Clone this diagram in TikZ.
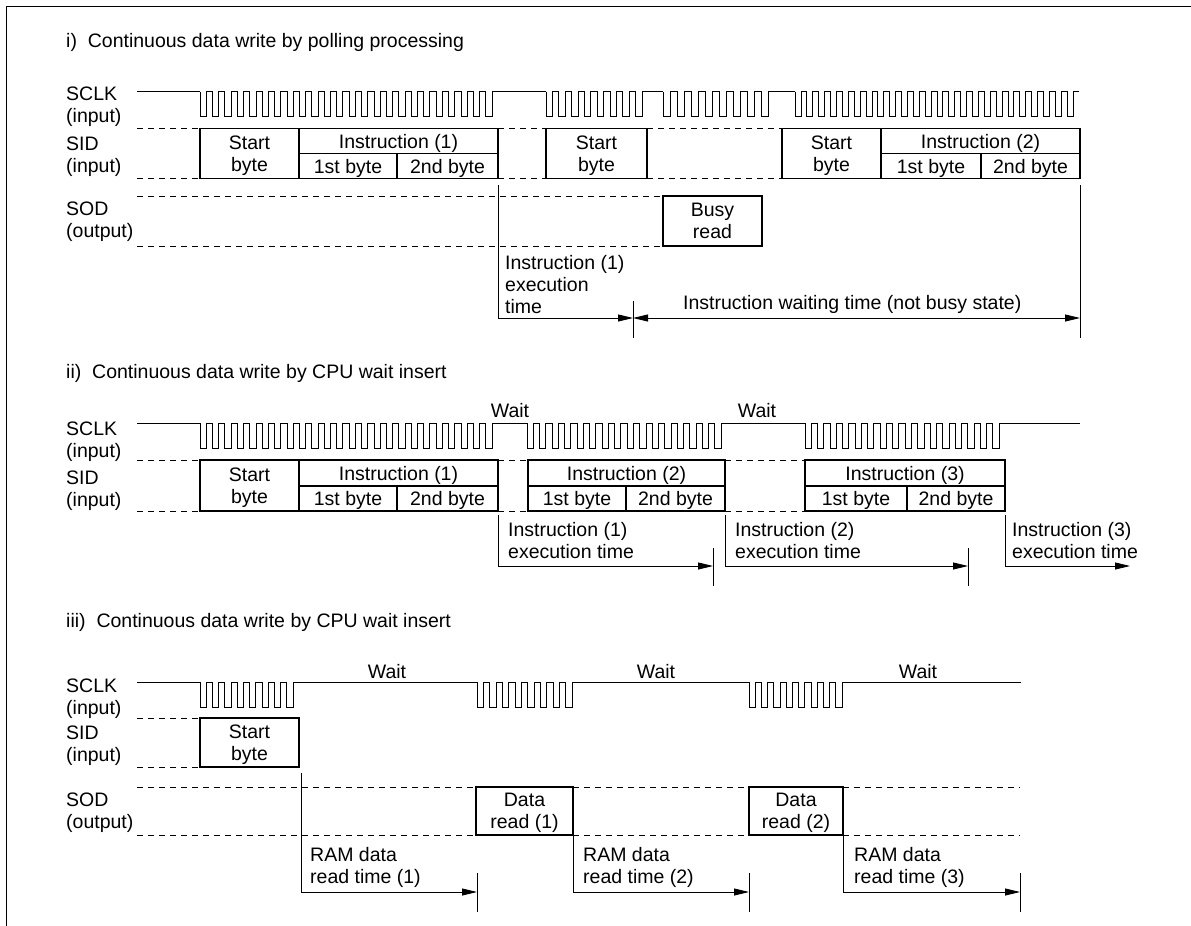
\documentclass[tikz,border=0pt]{standalone}
\usepackage{fontspec}
\setmainfont{Liberation Sans}
\usetikzlibrary{arrows.meta}

% one burst of clock pulses: first fall, clocks, last rise, high level
\newcommand{\clockburst}[4]{%
  \pgfmathsetmacro{\clkper}{(#3-#1)/(#2-0.5)}
  \draw[clock] (#1,#4) \foreach \k in {1,...,#2} { -- ++(0,25) -- ++(\clkper/2,0) -- ++(0,-25) -- ++(\clkper/2,0) };
}

\begin{document}
\begin{tikzpicture}[
    x=1pt, y=-1pt,
    >={Triangle[length=15pt,width=7pt]},
    font=\fontsize{19.5}{22}\selectfont,
    box/.style={draw, line width=1.5pt, inner sep=0pt, outer sep=0pt, anchor=north west, align=center, text depth=0pt},
    sig/.style={anchor=west, align=left, inner sep=0pt, yshift=-2pt},
    note/.style={anchor=west, align=left, inner sep=0pt, yshift=-1pt},
    heading/.style={anchor=west, inner sep=0pt, yshift=-2pt},
    waitlabel/.style={inner sep=0pt, yshift=-1.5pt},
    clock/.style={line width=0.8pt},
    guide/.style={line width=0.8pt, dash pattern=on 6pt off 5pt},
    span/.style={line width=0.8pt},
    tick/.style={line width=0.8pt}
]
    \useasboundingbox (0,0) rectangle (1191,926);
    \draw[line width=1pt] (1191,6) -- (6,6) -- (6,926);

    % Section i
    \node[heading] (titleA) at (66,40) {i)\ \ Continuous data write by polling processing};
    \node[sig] (aSclk) at (66,105) {SCLK\\(input)};
    \node[sig] (aSid) at (66,154.5) {SID\\(input)};
    \node[sig] (aSod) at (66,220) {SOD\\(output)};

    \draw[clock] (137,91.5) -- (200,91.5);
    \clockburst{200}{24}{492}{91.5}
    \draw[clock] (492,91.5) -- (546,91.5);
    \clockburst{546}{8}{642}{91.5}
    \draw[clock] (642,91.5) -- (663,91.5);
    \clockburst{663}{8}{768}{91.5}
    \draw[clock] (768,91.5) -- (795,91.5);
    \clockburst{795}{24}{1073}{91.5}

    \node[box, minimum width=99pt, minimum height=50pt] (aStart1) at (200,128.5) {Start\\byte};
    \node[box, minimum width=199pt, minimum height=25pt] (aInst1) at (299,128.5) {Instruction (1)};
    \node[box, minimum width=98pt, minimum height=25pt] (aInst1x) at (299,153.5) {1st byte};
    \node[box, minimum width=101pt, minimum height=25pt] (aInst1y) at (397,153.5) {2nd byte};
    \node[box, minimum width=101pt, minimum height=50pt] (aStart2) at (546,128.5) {Start\\byte};
    \node[box, minimum width=99pt, minimum height=50pt] (aStart3) at (782,128.5) {Start\\byte};
    \node[box, minimum width=199pt, minimum height=25pt] (aInst2) at (881,128.5) {Instruction (2)};
    \node[box, minimum width=100pt, minimum height=25pt] (aInst2x) at (881,153.5) {1st byte};
    \node[box, minimum width=99pt, minimum height=25pt] (aInst2y) at (981,153.5) {2nd byte};
    \node[box, minimum width=99pt, minimum height=50pt] (aBusy) at (663,196) {Busy\\read};

    \draw[guide] (137,128.5) -- (aStart1.north west) (aInst1.north east) -- (aStart2.north west) (aStart2.north east) -- (aStart3.north west);
    \draw[guide] (137,178.5) -- (aStart1.south west) (aInst1y.south east) -- (aStart2.south west) (aStart2.south east) -- (aStart3.south west);
    \draw[guide] (137,196) -- (aBusy.north west) (137,246) -- (aBusy.south west);

    \coordinate (aT1) at (633,318);
    \coordinate (aT2) at (1080,318);
    \draw[span, ->] (498,185) |- (aT1);
    \draw[span, <->] (aT1) -- (aT2);
    \draw[tick] (aT1) ++(0,-17) -- ++(0,37);
    \draw[tick] (1080,185) -- (1080,338);
    \node[note] (aNote1) at (505,283.5) {Instruction (1)\\execution\\time};
    \node[note] (aNote2) at (683,303) {Instruction waiting time (not busy state)};

    % Section ii
    \node[heading] (titleB) at (66,371) {ii)\ \ Continuous data write by CPU wait insert};
    \node[sig] (bSclk) at (66,439.5) {SCLK\\(input)};
    \node[sig] (bSid) at (66,488.5) {SID\\(input)};
    \node[waitlabel] (bWait1) at (510,409) {Wait};
    \node[waitlabel] (bWait2) at (757,409) {Wait};

    \draw[clock] (137,423) -- (200,423);
    \clockburst{200}{24}{492}{423}
    \draw[clock] (492,423) -- (527,423);
    \clockburst{527}{16}{721}{423}
    \draw[clock] (721,423) -- (805,423);
    \clockburst{805}{16}{999}{423}
    \draw[clock] (999,423) -- (1080,423);

    \node[box, minimum width=99pt, minimum height=51pt] (bStart1) at (200,460) {Start\\byte};
    \node[box, minimum width=199pt, minimum height=26pt] (bInst1) at (299,460) {Instruction (1)};
    \node[box, minimum width=98pt, minimum height=25pt] (bInst1x) at (299,486) {1st byte};
    \node[box, minimum width=101pt, minimum height=25pt] (bInst1y) at (397,486) {2nd byte};
    \node[box, minimum width=197pt, minimum height=26pt] (bInst2) at (528,460) {Instruction (2)};
    \node[box, minimum width=98pt, minimum height=25pt] (bInst2x) at (528,486) {1st byte};
    \node[box, minimum width=99pt, minimum height=25pt] (bInst2y) at (626,486) {2nd byte};
    \node[box, minimum width=200pt, minimum height=26pt] (bInst3) at (805,460) {Instruction (3)};
    \node[box, minimum width=102pt, minimum height=25pt] (bInst3x) at (805,486) {1st byte};
    \node[box, minimum width=98pt, minimum height=25pt] (bInst3y) at (907,486) {2nd byte};

    \draw[guide] (137,460) -- (bStart1.north west) (bInst1.north east) -- (bInst2.north west) (bInst2.north east) -- (bInst3.north west);
    \draw[guide] (137,511) -- (bStart1.south west) (bInst1y.south east) -- (bInst2x.south west) (bInst2y.south east) -- (bInst3x.south west);

    \coordinate (bT1) at (713,566);
    \coordinate (bT2) at (968,566);
    \coordinate (bT3) at (1130,566);
    \draw[span, ->] (498,515) |- (bT1);
    \draw[span, ->] (725,515) |- (bT2);
    \draw[span, ->] (1005,515) |- (bT3);
    \draw[tick] (bT1) ++(0,-18) -- ++(0,38);
    \draw[tick] (bT2) ++(0,-18) -- ++(0,38);
    \node[note] (bNote1) at (508,539.5) {Instruction (1)\\execution time};
    \node[note] (bNote2) at (735,539.5) {Instruction (2)\\execution time};
    \node[note] (bNote3) at (1012,539.5) {Instruction (3)\\execution time};

    % Section iii
    \node[heading] (titleC) at (66,620) {iii)\ \ Continuous data write by CPU wait insert};
    \node[sig] (cSclk) at (66,697) {SCLK\\(input)};
    \node[sig] (cSid) at (66,744) {SID\\(input)};
    \node[sig] (cSod) at (66,811) {SOD\\(output)};
    \node[waitlabel] (cWait1) at (387,670) {Wait};
    \node[waitlabel] (cWait2) at (656,670) {Wait};
    \node[waitlabel] (cWait3) at (918,670) {Wait};

    \draw[clock] (137,682) -- (200,682);
    \clockburst{200}{8}{293}{682}
    \draw[clock] (293,682) -- (477,682);
    \clockburst{477}{8}{572}{682}
    \draw[clock] (572,682) -- (749,682);
    \clockburst{749}{8}{842}{682}
    \draw[clock] (842,682) -- (1021,682);

    \node[box, minimum width=99pt, minimum height=49pt] (cStart1) at (200,718) {Start\\byte};
    \node[box, minimum width=97pt, minimum height=48pt] (cRead1) at (476,787) {Data\\read (1)};
    \node[box, minimum width=94pt, minimum height=48pt] (cRead2) at (749,787) {Data\\read (2)};

    \draw[guide] (137,718) -- (cStart1.north west) (137,767) -- (cStart1.south west);
    \draw[guide] (137,787) -- (cRead1.north west) (cRead1.north east) -- (cRead2.north west) (cRead2.north east) -- (1020,787);
    \draw[guide] (137,835) -- (cRead1.south west) (cRead1.south east) -- (cRead2.south west) (cRead2.south east) -- (1020,835);

    \coordinate (cT1) at (477,892);
    \coordinate (cT2) at (749,892);
    \coordinate (cT3) at (1020,892);
    \draw[span, ->] (301,773) |- (cT1);
    \draw[span, ->] (cRead1.south east) |- (cT2);
    \draw[span, ->] (cRead2.south east) |- (cT3);
    \draw[tick] (cT1) ++(0,-19) -- ++(0,39);
    \draw[tick] (cT2) ++(0,-19) -- ++(0,39);
    \draw[tick] (cT3) ++(0,-19) -- ++(0,39);
    \node[note] (cNote1) at (310,866.5) {RAM data\\read time (1)};
    \node[note] (cNote2) at (583,866.5) {RAM data\\read time (2)};
    \node[note] (cNote3) at (854,866.5) {RAM data\\read time (3)};
\end{tikzpicture}
\end{document}
